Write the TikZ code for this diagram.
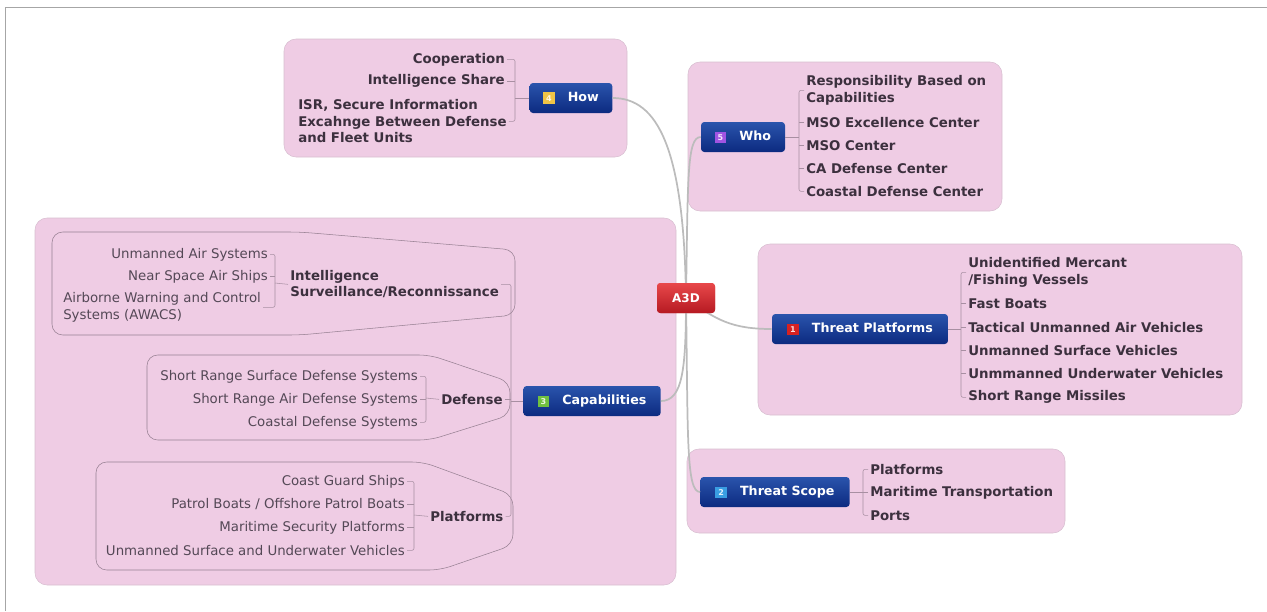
\documentclass[tikz,border=0pt]{standalone}
\usepackage{fontspec}
\setmainfont{DejaVu Sans}
\usetikzlibrary{positioning}
\definecolor{panelpink}{RGB}{239,204,228}
\definecolor{panelline}{RGB}{216,190,208}
\definecolor{linkgray}{RGB}{188,188,188}
\definecolor{itemtext}{RGB}{60,48,62}
\definecolor{subtext}{RGB}{84,72,86}
\definecolor{groupline}{RGB}{150,128,146}
\definecolor{topictop}{RGB}{42,84,172}
\definecolor{topicbot}{RGB}{12,42,128}
\definecolor{roottop}{RGB}{232,72,74}
\definecolor{rootbot}{RGB}{182,26,34}
\definecolor{iconred}{RGB}{214,34,34}
\definecolor{iconblue}{RGB}{58,158,226}
\definecolor{icongreen}{RGB}{112,192,64}
\definecolor{iconyellow}{RGB}{240,196,70}
\definecolor{iconpurple}{RGB}{160,84,226}
% small numbered icon in front of a topic label
\newcommand{\tpicon}[2]{{\setlength{\fboxsep}{1pt}\colorbox{#1}{\rule[-0.8pt]{0pt}{6.5pt}\makebox[6.5pt][c]{\color{white!85!#1}\fontsize{6}{6}\selectfont\bfseries #2}}}\hspace{10pt}}
\tikzset{
  panel/.style={fill=panelpink, draw=panelline, rounded corners=9pt},
  grouping/.style={draw=groupline, rounded corners=8pt, thin},
  topic/.style={rounded corners=2.5pt, top color=topictop, bottom color=topicbot,
    text=white, font=\fontsize{9.5}{11}\selectfont\bfseries,
    minimum height=22.5pt, inner sep=2pt},
  root/.style={rounded corners=2.5pt, top color=roottop, bottom color=rootbot,
    text=white, font=\fontsize{9}{11}\selectfont\bfseries,
    minimum height=22.5pt, inner sep=2pt},
  item/.style={text=itemtext, font=\fontsize{10}{12.3}\selectfont\bfseries,
    inner sep=1.5pt, align=left, yshift=-1pt},
  subitem/.style={text=subtext, font=\fontsize{10}{12.3}\selectfont,
    inner sep=1.5pt, align=left, yshift=-1pt},
  brk/.style={draw=groupline!80!panelpink, thin, rounded corners=1.5pt},
  link/.style={draw=linkgray, line width=1.3pt},
}
\begin{document}
\begin{tikzpicture}[x=0.75pt, y=-0.75pt]
  \useasboundingbox (0,0) rectangle (1267,611);
  \draw[gray!70, line width=0.6pt] (5,611) -- (5,7) -- (1267,7);

  % panels
  \draw[panel] (284,39) rectangle (627,157);
  \draw[panel] (688,62) rectangle (1002,211);
  \draw[panel] (758,244) rectangle (1242,415);
  \draw[panel] (687,449) rectangle (1065,533);
  \draw[panel] (35,218) rectangle (676,585);

  % group outlines inside Capabilities
  \draw[grouping] (52,232) -- (300,232) -- (515,250) -- (515,315) -- (300,335) -- (52,335) -- cycle;
  \draw[grouping] (147,355) -- (430,355) -- (510,382) -- (510,415) -- (430,440) -- (147,440) -- cycle;
  \draw[grouping] (96,462) -- (423,462) -- (513,495) -- (513,545) -- (440,570) -- (96,570) -- cycle;

  % main topics
  \node[root, minimum width=43.5pt] (a3d) at (686,298) {A3D};
  \node[topic, minimum width=62pt] (how) at (571,98) {\tpicon{iconyellow}{4}How};
  \node[topic, minimum width=63pt] (who) at (743,137) {\tpicon{iconpurple}{5}Who};
  \node[topic, minimum width=132pt] (tp) at (860,329) {\tpicon{iconred}{1}Threat Platforms};
  \node[topic, minimum width=112pt] (ts) at (775,492) {\tpicon{iconblue}{2}Threat Scope};
  \node[topic, minimum width=103pt] (cap) at (592,401) {\tpicon{icongreen}{3}Capabilities};

  % links to the root
  \draw[link] (how.east) .. controls +(45,0) and +(-2,-150) .. (a3d.center);
  \draw[link] (who.west) .. controls +(-14,0) and +(2,-120) .. (a3d.center);
  \draw[link] (cap.east) .. controls +(22,0) and +(0,70) .. (a3d.center);
  \draw[link] (ts.west) .. controls +(-14,0) and +(2,140) .. (a3d.center);
  \draw[link] (a3d.center) .. controls +(30,22) and +(-40,0) .. (tp.west);
  \node[root, minimum width=43.5pt] at (a3d) {A3D};

  % How
  \node[item, anchor=east] (coop) at (507,58) {Cooperation};
  \node[item, anchor=east] (ishare) at (507,80) {Intelligence Share};
  \node[item, anchor=west] (isr) at (296,120) {ISR, Secure Information\\Excahnge Between Defense\\and Fleet Units};
  \coordinate (howbrk) at (515,98);
  \draw[brk] (coop.east) -| (howbrk) |- (isr.east);
  \draw[brk] (ishare.east) -- (ishare.east -| howbrk);
  \draw[brk] (how.west) -- (howbrk);

  % Who
  \node[item, anchor=west] (resp) at (804,89) {Responsibility Based on\\Capabilities};
  \node[item, anchor=west] (msoex) at (804,121) {MSO Excellence Center};
  \node[item, anchor=west] (mso) at (804,144) {MSO Center};
  \node[item, anchor=west] (cadef) at (804,167) {CA Defense Center};
  \node[item, anchor=west] (coastdef) at (804,190) {Coastal Defense Center};
  \coordinate (whobrk) at (799,137);
  \draw[brk] (resp.west) -| (whobrk) |- (coastdef.west);
  \foreach \n in {msoex,mso,cadef}
    \draw[brk] (\n.west) -- (\n.west -| whobrk);
  \draw[brk] (who.east) -- (whobrk);

  % Threat Platforms
  \node[item, anchor=west] (unid) at (966,271) {Unidentified Mercant\\/Fishing Vessels};
  \node[item, anchor=west] (fast) at (966,302) {Fast Boats};
  \node[item, anchor=west] (tuav) at (966,326) {Tactical Unmanned Air Vehicles};
  \node[item, anchor=west] (usv) at (966,349) {Unmanned Surface Vehicles};
  \node[item, anchor=west] (uuv) at (966,372) {Unmmanned Underwater Vehicles};
  \node[item, anchor=west] (srm) at (966,396) {Short Range Missiles};
  \coordinate (tpbrk) at (961,329);
  \draw[brk] (unid.west) -| (tpbrk) |- (srm.west);
  \foreach \n in {fast,tuav,usv,uuv}
    \draw[brk] (\n.west) -- (\n.west -| tpbrk);
  \draw[brk] (tp.east) -- (tpbrk);

  % Threat Scope
  \node[item, anchor=west] (tsplat) at (868,468) {Platforms};
  \node[item, anchor=west] (mart) at (868,491) {Maritime Transportation};
  \node[item, anchor=west] (ports) at (868,514) {Ports};
  \coordinate (tsbrk) at (863,492);
  \draw[brk] (tsplat.west) -| (tsbrk) |- (ports.west);
  \draw[brk] (mart.west) -- (mart.west -| tsbrk);
  \draw[brk] (ts.east) -- (tsbrk);

  % Capabilities
  \node[item, anchor=west] (isrt) at (288,283) {Intelligence\\Surveillance/Reconnissance};
  \node[item, anchor=west] (deft) at (439,398) {Defense};
  \node[item, anchor=west] (platt) at (428,515) {Platforms};
  \coordinate (capbrk) at (511,401);
  \draw[brk] (isrt.east) -| (capbrk) |- (platt.east);
  \draw[brk] (deft.east) -- (deft.east -| capbrk);
  \draw[brk] (cap.west) -- (capbrk);

  \node[subitem, anchor=east] (uas) at (270,253) {Unmanned Air Systems};
  \node[subitem, anchor=east] (nsas) at (270,275) {Near Space Air Ships};
  \node[subitem, anchor=west] (awacs) at (61,306) {Airborne Warning and Control\\Systems (AWACS)};
  \coordinate (isrbrk) at (275,283);
  \draw[brk] (uas.east) -| (isrbrk) |- (awacs.east);
  \draw[brk] (nsas.east) -- (nsas.east -| isrbrk);
  \draw[brk] (isrt.west) -- (isrbrk);

  \node[subitem, anchor=east] (srsds) at (420,375) {Short Range Surface Defense Systems};
  \node[subitem, anchor=east] (srads) at (420,398) {Short Range Air Defense Systems};
  \node[subitem, anchor=east] (cds) at (420,421) {Coastal Defense Systems};
  \coordinate (defbrk) at (426,398);
  \draw[brk] (srsds.east) -| (defbrk) |- (cds.east);
  \draw[brk] (srads.east) -- (srads.east -| defbrk);
  \draw[brk] (deft.west) -- (defbrk);

  \node[subitem, anchor=east] (cgs) at (407,480) {Coast Guard Ships};
  \node[subitem, anchor=east] (pbops) at (407,503) {Patrol Boats / Offshore Patrol Boats};
  \node[subitem, anchor=east] (msp) at (407,526) {Maritime Security Platforms};
  \node[subitem, anchor=east] (usuv) at (407,549) {Unmanned Surface and Underwater Vehicles};
  \coordinate (platbrk) at (414,515);
  \draw[brk] (cgs.east) -| (platbrk) |- (usuv.east);
  \foreach \n in {pbops,msp}
    \draw[brk] (\n.east) -- (\n.east -| platbrk);
  \draw[brk] (platt.west) -- (platbrk);
\end{tikzpicture}
\end{document}
